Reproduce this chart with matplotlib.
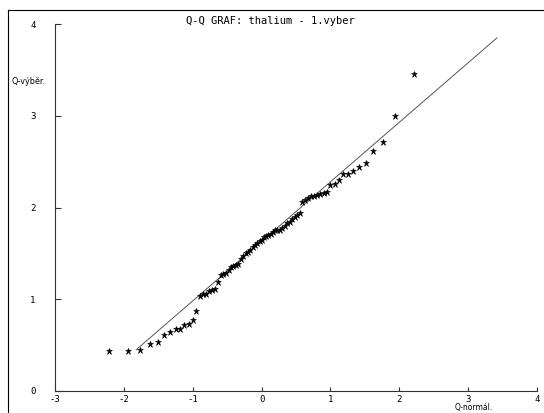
import matplotlib
matplotlib.use("Agg")
import matplotlib.pyplot as plt
from matplotlib.lines import Line2D

# theoretical normal quantiles (x) and sorted sample values (y)
q_norm = [-2.22, -1.94, -1.76, -1.62, -1.51, -1.41, -1.33, -1.25, -1.18, -1.12,
          -1.06, -1.00, -0.95, -0.90, -0.85, -0.81, -0.76, -0.72, -0.67, -0.63,
          -0.59, -0.56, -0.52, -0.48, -0.44, -0.41, -0.37, -0.34, -0.30, -0.27,
          -0.23, -0.20, -0.17, -0.13, -0.10, -0.07, -0.03, 0.00, 0.03, 0.07,
          0.10, 0.13, 0.17, 0.20, 0.23, 0.27, 0.30, 0.34, 0.37, 0.41,
          0.44, 0.48, 0.52, 0.56, 0.59, 0.63, 0.67, 0.72, 0.76, 0.81,
          0.85, 0.90, 0.95, 1.00, 1.06, 1.12, 1.18, 1.25, 1.33, 1.41,
          1.51, 1.62, 1.76, 1.94, 2.22]
q_vyber = [0.44, 0.44, 0.45, 0.51, 0.53, 0.61, 0.64, 0.68, 0.68, 0.72,
           0.73, 0.77, 0.87, 1.03, 1.06, 1.06, 1.09, 1.10, 1.11, 1.19,
           1.26, 1.27, 1.29, 1.32, 1.35, 1.36, 1.37, 1.38, 1.44, 1.47,
           1.50, 1.52, 1.54, 1.57, 1.59, 1.61, 1.63, 1.65, 1.68, 1.69,
           1.70, 1.71, 1.73, 1.75, 1.76, 1.76, 1.78, 1.80, 1.83, 1.84,
           1.87, 1.90, 1.92, 1.94, 2.06, 2.08, 2.10, 2.12, 2.13, 2.14,
           2.15, 2.16, 2.17, 2.24, 2.26, 2.30, 2.37, 2.37, 2.40, 2.44,
           2.48, 2.62, 2.71, 3.00, 3.46]

# reference line end points
line_x = [-1.82, 3.42]
line_y = [0.45, 3.85]

x_ticks = [-3, -2, -1, 0, 1, 2, 3, 4]
y_ticks = [0, 1, 2, 3, 4]

W, H = 544, 413
fig = plt.figure(figsize=(W / 100, H / 100), dpi=100)
ax = fig.add_axes([55 / W, 22 / H, 482 / W, 367 / H])

ax.plot(line_x, line_y, color="#555555", lw=0.7)
ax.plot(q_norm, q_vyber, ls="none", marker="*", ms=5, color="black",
        markeredgewidth=0.4)

ax.set_xlim(-3, 4)
ax.set_ylim(0, 4)
ax.set_xticks(x_ticks)
ax.set_yticks(y_ticks)
ax.set_xticklabels([str(v) for v in x_ticks])
ax.set_yticklabels([str(v) for v in y_ticks])

for s in ["top", "right"]:
    ax.spines[s].set_visible(False)
for s in ["left", "bottom"]:
    ax.spines[s].set_color("#333333")
    ax.spines[s].set_linewidth(0.8)

ax.tick_params(axis="y", direction="in", length=4, width=0.8, color="#333333",
               pad=14, labelsize=6.5)
ax.tick_params(axis="x", direction="in", length=3, width=0.8, color="#333333",
               pad=3, labelsize=6.5)
for lbl in ax.get_xticklabels() + ax.get_yticklabels():
    lbl.set_family("DejaVu Sans Mono")

fig.text(270 / W, 1 - 20.5 / H, "Q-Q GRAF: thalium - 1.vyber", ha="center",
         va="center", fontsize=7.5, family="DejaVu Sans Mono")
fig.text(11 / W, 1 - 81 / H, "Q-výběr.", ha="left", va="center",
         fontsize=5.8, family="DejaVu Sans")
fig.text(474 / W, 1 - 407.5 / H, "Q-normál.", ha="center", va="center",
         fontsize=5.5, family="DejaVu Sans")

# window frame
fig.add_artist(Line2D([7.5 / W, 7.5 / W], [0, 1 - 10 / H], transform=fig.transFigure,
                      color="black", lw=0.8))
fig.add_artist(Line2D([7.5 / W, 1], [1 - 10 / H, 1 - 10 / H], transform=fig.transFigure,
                      color="black", lw=0.8))

fig.savefig("out.png", dpi=100)
